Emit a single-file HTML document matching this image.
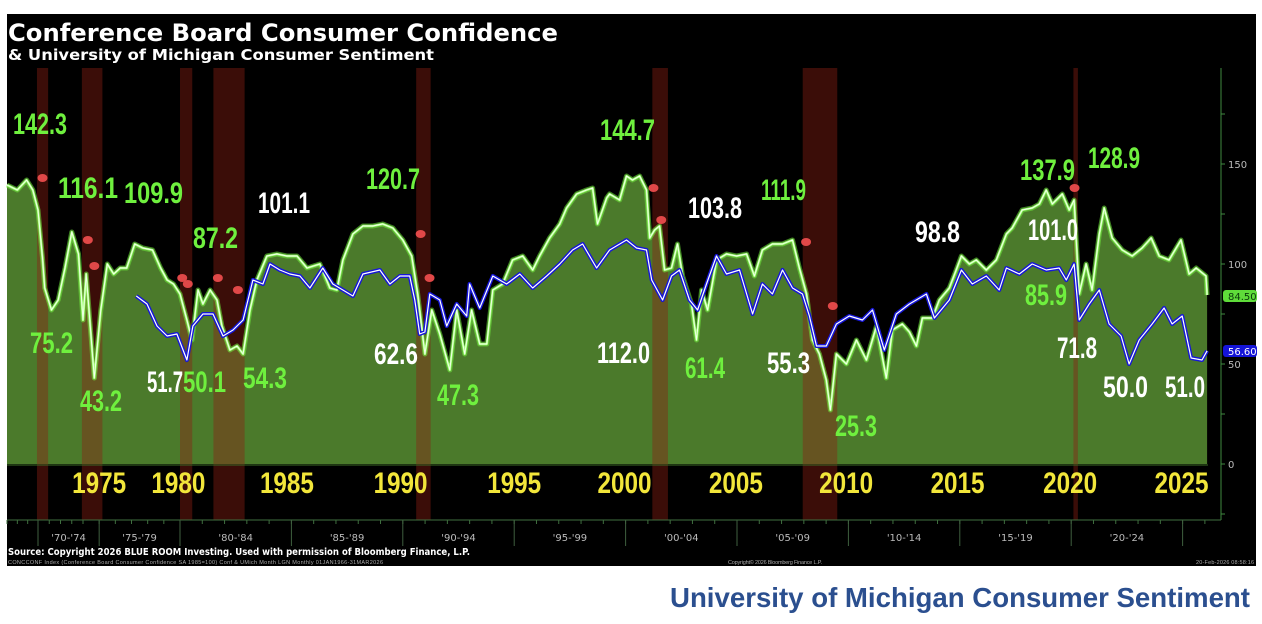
<!DOCTYPE html>
<html><head><meta charset="utf-8">
<style>
html,body{margin:0;padding:0;background:#fff;width:1262px;height:624px;overflow:hidden}
svg{display:block}
.ann{font-family:"Liberation Sans Narrow","Liberation Sans",sans-serif;font-weight:bold;font-size:30px}
.yr{font-family:"Liberation Sans Narrow","Liberation Sans",sans-serif;font-weight:bold;font-size:30px;fill:#f2e63a}
.tk{font-family:"DejaVu Sans","Liberation Sans",sans-serif;font-size:10px;fill:#bbb}
</style></head><body>
<svg id="chart" width="1262" height="624" viewBox="0 0 1262 624">
<rect x="7" y="14" width="1249" height="552" fill="#000"/>
<text x="8" y="41" fill="#fff" style="font-family:'DejaVu Sans',sans-serif;font-weight:bold;font-size:24px" textLength="550" lengthAdjust="spacingAndGlyphs">Conference Board Consumer Confidence</text>
<text x="8" y="60" fill="#fff" style="font-family:'DejaVu Sans',sans-serif;font-weight:bold;font-size:15px" textLength="426" lengthAdjust="spacingAndGlyphs">&amp; University of Michigan Consumer Sentiment</text>
<g id="fill"></g><g id="rec"></g><g id="lines"></g><g id="axes"></g><g id="marks"></g><g id="ann"></g>
<text x="8" y="555" fill="#fff" style="font-family:'DejaVu Sans',sans-serif;font-weight:bold;font-size:9.5px" textLength="462" lengthAdjust="spacingAndGlyphs">Source: Copyright 2026 BLUE ROOM Investing. Used with permission of Bloomberg Finance, L.P.</text>
<text x="8" y="564" fill="#aaa" style="font-family:'Liberation Sans',sans-serif;font-size:5.5px" textLength="375">CONCCONF Index (Conference Board Consumer Confidence SA 1985=100) Conf &amp; UMich Month LGN Monthly 01JAN1966-31MAR2026</text>
<text x="728" y="564" fill="#aaa" style="font-family:'Liberation Sans',sans-serif;font-size:5.5px" textLength="94">Copyright© 2026 Bloomberg Finance L.P.</text>
<text x="1196" y="564" fill="#aaa" style="font-family:'Liberation Sans',sans-serif;font-size:5.5px" textLength="58">20-Feb-2026 08:58:16</text>
<text x="670" y="607" fill="#2b4f8f" style="font-family:'Liberation Sans',sans-serif;font-weight:bold;font-size:28px" textLength="580" lengthAdjust="spacingAndGlyphs">University of Michigan Consumer Sentiment</text>
</svg>
<script>
const cciDates=[1967.0,1968.0,1968.9,1969.5,1970.0,1970.4,1970.6,1971.2,1971.8,1972.4,1973.0,1973.6,1974.0,1974.2,1974.7,1975.1,1975.5,1975.9,1976.3,1976.7,1977.2,1977.7,1978.3,1978.8,1979.2,1979.6,1980.0,1980.31,1980.54,1980.81,1981.03,1981.35,1981.66,1981.88,1982.24,1982.56,1982.83,1983.14,1983.45,1983.9,1984.35,1984.8,1985.25,1985.7,1986.28,1986.73,1987.04,1987.31,1987.76,1988.21,1988.65,1989.1,1989.55,1990.0,1990.4,1990.67,1990.99,1991.3,1991.66,1992.11,1992.42,1992.78,1993.09,1993.45,1993.77,1994.04,1994.48,1994.93,1995.38,1995.83,1996.14,1996.59,1997.04,1997.35,1997.8,1998.25,1998.52,1998.74,1999.15,1999.28,1999.73,2000.04,2000.31,2000.63,2000.94,2001.08,2001.3,2001.52,2001.75,2002.06,2002.33,2002.56,2002.96,2003.18,2003.41,2003.68,2004.08,2004.53,2004.98,2005.43,2005.78,2006.14,2006.59,2007.04,2007.49,2007.8,2008.12,2008.39,2008.7,2009.01,2009.19,2009.46,2009.91,2010.36,2010.81,2011.26,2011.7,2011.97,2012.42,2012.74,2013.05,2013.32,2013.77,2014.08,2014.53,2014.84,2015.07,2015.43,2015.74,2016.19,2016.64,2017.09,2017.35,2017.8,2018.25,2018.57,2018.88,2019.15,2019.6,2019.91,2020.13,2020.36,2020.67,2020.94,2021.26,2021.48,2021.84,2022.29,2022.74,2023.18,2023.59,2023.95,2024.39,2024.93,2025.29,2025.61,2026.05,2026.1];
const cciValues=[139.5,137,142,137,127,103,88,77,82,98,116,105,72,95,43,77,100,95,98,98,110,108,107,98,92,90,85,72,62,87,80,87,82,69,57,59,55,77,92,104,105,104,104,98,100,88,87,102,115,119,119,120,118,112,104,85,55,77,65,47,77,55,77,60,60,87,90,102,104,97,104,113,120,128,135,137,138,120,133,135,132,144,142,144,137,113,117,119,97,98,110,94,80,62,87,77,102,105,104,105,94,107,110,110,112,98,85,62,55,42,27,55,50,62,52,69,43,67,70,66,59,73,73,82,88,97,104,100,102,97,102,115,118,127,128,130,137,130,135,127,132,85,100,87,115,128,113,107,104,108,113,104,102,112,95,98,94,84.5];
const umDates=[1977.3,1977.96,1978.58,1979.2,1979.81,1980.31,1980.58,1981.03,1981.48,1981.93,1982.38,1982.83,1983.27,1983.72,1984.04,1984.48,1984.93,1985.38,1985.83,1986.41,1986.86,1987.76,1988.21,1988.97,1989.42,1989.87,1990.31,1990.54,1990.76,1990.99,1991.21,1991.66,1991.97,1992.42,1992.87,1993.0,1993.45,1994.04,1994.66,1995.25,1995.83,1996.46,1997.04,1997.62,1998.07,1998.7,1999.28,2000.04,2000.49,2000.94,2001.17,2001.66,2002.06,2002.42,2002.87,2003.23,2003.63,2004.08,2004.53,2005.11,2005.7,2006.14,2006.59,2007.04,2007.49,2007.94,2008.25,2008.57,2009.01,2009.46,2010.04,2010.63,2011.08,2011.61,2012.15,2012.74,2013.5,2013.86,2014.53,2015.07,2015.56,2016.19,2016.77,2017.09,2017.67,2018.25,2018.88,2019.46,2019.78,2020.13,2020.36,2020.81,2021.26,2021.7,2022.24,2022.6,2023.05,2023.63,2024.17,2024.53,2024.98,2025.38,2025.87,2026.1];
const umValues=[84,80,69,64,65,52,69,75,75,64,67,72,92,90,100,97,95,94,88,98,90,84,95,97,90,94,94,82,65,66,85,82,69,80,74,90,78,94,90,95,88,94,100,107,110,98,107,112,108,107,92,82,94,97,82,77,90,104,95,97,75,90,85,97,88,85,74,59,59,70,74,72,77,57,75,80,85,73,82,97,90,94,87,98,95,100,97,98,92,100,72,80,87,70,64,50,62,70,78,70,74,53,52,56.6];
const recessionStarts=[1969.9,1973.9,1980.0,1981.5,1990.6,2001.2,2007.95,2020.1];
const recessionEnds=[1970.9,1975.2,1980.55,1982.9,1991.25,2001.9,2009.5,2020.3];
const yearLabels=['1975','1980','1985','1990','1995','2000','2005','2010','2015','2020','2025'];
const yearLabelPos=[1975,1979.9,1984.8,1989.9,1995.0,1999.95,2004.95,2009.9,2014.9,2019.95,2024.95];
const periodLabels=["'70-'74","'75-'79","'80-'84","'85-'89","'90-'94","'95-'99","'00-'04","'05-'09","'10-'14","'15-'19","'20-'24"];
const periodStarts=[1970,1975,1980,1985,1990,1995,2000,2005,2010,2015,2020,2025];
const yTicks=[-25,0,25,50,75,100,125,150,175];
const yTickLabels=['','0','','50','','100','','150',''];
const annTexts=['142.3','116.1','109.9','87.2','75.2','43.2','51.7','50.1','54.3','101.1','120.7','62.6','47.3','144.7','112.0','103.8','111.9','61.4','55.3','25.3','98.8','137.9','128.9','101.0','85.9','71.8','50.0','51.0'];
const annColors=['g','g','g','g','g','g','w','g','g','w','g','w','g','g','w','w','g','g','w','g','w','g','g','w','g','w','w','w'];
const annX=[13,58,124,193,30,80,147,183,243,258,366,374,437,600,597,688,761,685,767,835,915,1020,1088,1028,1025,1057,1103,1165];
const annY=[134,198,203,248,353,411,392,392,388,213,189,364,405,140,363,218,200,378,373,436,242,180,168,240,305,358,397,397];
const annW=[54,60,59,45,43,42,36,43,44,52,54,44,42,55,53,54,45,40,43,42,45,55,52,50,42,40,45,40];

const NS='http://www.w3.org/2000/svg';
const tk=[[1967,7],[1970,38],[1974,83],[1980,180],[2026.14,1208]];
function xs(t){for(let i=1;i<tk.length;i++){if(t<=tk[i][0]||i===tk.length-1){const a=tk[i-1],b=tk[i];return a[1]+(t-a[0])*(b[1]-a[1])/(b[0]-a[0]);}}}
function ys(v){return 464-2*v;}
function mk(tag,attrs,parent){const e=document.createElementNS(NS,tag);for(const k in attrs)e.setAttribute(k,attrs[k]);parent.appendChild(e);return e;}
const G=id=>document.getElementById(id);

let d='M'+xs(cciDates[0])+','+ys(0);
cciDates.forEach((t,i)=>{d+=' L'+xs(t).toFixed(1)+','+ys(cciValues[i]).toFixed(1);});
d+=' L'+xs(cciDates[cciDates.length-1]).toFixed(1)+','+ys(0)+' Z';
const fp=mk('path',{d:d,fill:'#4b7a2b'},G('fill'));



recessionStarts.forEach((s,i)=>{
  const x0=xs(s),x1=xs(recessionEnds[i]);
  const r=mk('rect',{x:x0,y:68,width:Math.max(x1-x0,4),height:452,fill:'rgba(140,30,20,0.42)'},G('rec'));
  
  
});

function line(dates,vals){let s='';dates.forEach((t,i)=>{s+=(i?' L':'M')+xs(t).toFixed(1)+','+ys(vals[i]).toFixed(1);});return s;}
const gd=line(cciDates,cciValues), bd=line(umDates,umValues);
const g1=mk('path',{d:gd,fill:'none',stroke:'#6fe83c','stroke-width':5,'stroke-opacity':0.55,'stroke-linejoin':'round'},G('lines'));


const g2=mk('path',{d:gd,fill:'none',stroke:'#a6ff7a','stroke-width':2.4,'stroke-linejoin':'round'},G('lines'));


const g3=mk('path',{d:gd,fill:'none',stroke:'#f4fff0','stroke-width':0.9,'stroke-linejoin':'round'},G('lines'));


const b1=mk('path',{d:bd,fill:'none',stroke:'#1616d8','stroke-width':4,'stroke-linejoin':'round'},G('lines'));


const b2=mk('path',{d:bd,fill:'none',stroke:'#fff','stroke-width':1.2,'stroke-linejoin':'round'},G('lines'));



const ax=G('axes');
const zl=mk('line',{x1:7,y1:465,x2:1208,y2:465,stroke:'#3b6a25','stroke-width':1},ax);


const ra=mk('line',{x1:1221,y1:68,x2:1221,y2:520,stroke:'#3f8a3f','stroke-width':1},ax);


const ba=mk('line',{x1:7,y1:520,x2:1221,y2:520,stroke:'#3f6f3f','stroke-width':1},ax);


yTicks.forEach((v,i)=>{
  const t=mk('line',{x1:1221,y1:ys(v),x2:1225,y2:ys(v),stroke:'#3f8a3f'},ax);
  
  
  if(yTickLabels[i]){const tx=mk('text',{x:1228,y:ys(v)+4,class:'tk'},ax);tx.textContent=yTickLabels[i];
  
  }
});
for(let yv=1967;yv<=2026;yv++){const t=mk('line',{x1:xs(yv),y1:520,x2:xs(yv),y2:524,stroke:'#3f6f3f'},ax);
  
  }
periodStarts.forEach((p,i)=>{
  const t=mk('line',{x1:xs(p),y1:520,x2:xs(p),y2:546,stroke:'#3f5f3f'},ax);
  
  
  if(i<periodLabels.length){const xm=(xs(p)+xs(periodStarts[i+1]))/2;
    const tx=mk('text',{x:xm,y:541,class:'tk','text-anchor':'middle'},ax);tx.textContent=periodLabels[i];
    
    }
});
const tag1=mk('rect',{x:1223,y:290,width:34,height:12,rx:3,fill:'#5fdc3a'},ax);


const tt1=mk('text',{x:1228,y:300,class:'tk',style:'fill:#0a3a0a'},ax);tt1.textContent='84.50';


const tag2=mk('rect',{x:1223,y:345,width:34,height:12,rx:3,fill:'#1414d8'},ax);


const tt2=mk('text',{x:1228,y:355,class:'tk',style:'fill:#fff'},ax);tt2.textContent='56.60';



const mx=[1970.4,1974.3,1974.7,1980.1,1980.35,1981.7,1982.6,1990.8,1991.2,2001.25,2001.6,2008.1,2009.3,2020.15];
const mv=[143,112,99,93,90,93,87,115,93,138,122,111,79,138];
mx.forEach((t,i)=>{const e=mk('ellipse',{cx:xs(t),cy:ys(mv[i]),rx:5,ry:4,fill:'#e04848'},G('marks'));
  
  });

yearLabels.forEach((l,i)=>{const tx=mk('text',{x:xs(yearLabelPos[i]),y:493,class:'yr','text-anchor':'middle',textLength:54,lengthAdjust:'spacingAndGlyphs'},G('ann'));
  tx.textContent=l;
  
  });
annTexts.forEach((s,i)=>{const tx=mk('text',{x:annX[i],y:annY[i],class:'ann',fill:annColors[i]==='g'?'#6ff03e':'#ffffff',textLength:annW[i],lengthAdjust:'spacingAndGlyphs'},G('ann'));
  tx.textContent=s;
  
  });
</script>
</body></html>
